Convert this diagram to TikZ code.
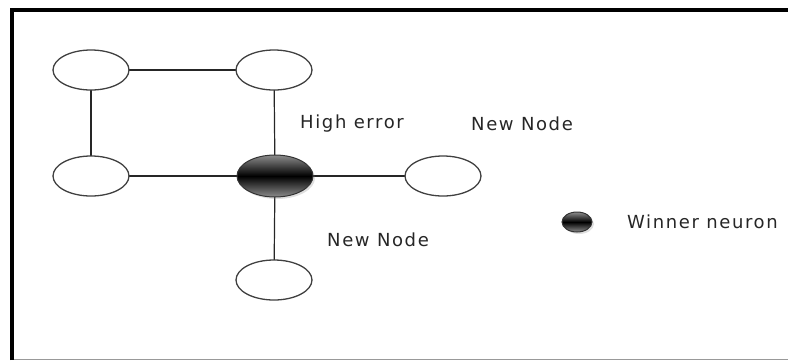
\documentclass[tikz,border=0pt]{standalone}
\usepackage{fontspec}
\setmainfont{DejaVu Sans}
\usetikzlibrary{shapes.geometric,shadows}

\begin{document}
\begin{tikzpicture}[x=1pt,y=-1pt]
        \tikzset{
          neuron/.style={ellipse,draw=black!75,line width=1.3pt,fill=white,
            minimum width=76pt,minimum height=40pt,inner sep=0pt},
          winner/.style={ellipse,draw=black!80,line width=1pt,
            top color=black!45,bottom color=black!45,middle color=black,
            drop shadow={shadow xshift=2pt,shadow yshift=-2pt,opacity=0.25}},
          link/.style={draw=black!85,line width=1.2pt},
          lbl/.style={font=\fontsize{18}{20}\selectfont\addfontfeatures{LetterSpace=9},
            text=black!85,inner sep=0pt}
        }
        \useasboundingbox (0,0) rectangle (788,360);
        % frame
        \draw [black!40,line width=1pt] (12,359) -- (788,359);
        \draw [black,line width=4pt] (11.5,360) -- (11.5,10) -- (788,10);
        % links first, nodes on top
        \coordinate (ptl) at (91,70);
        \coordinate (ptr) at (274,70);
        \coordinate (pml) at (91,176);
        \coordinate (pc) at (275,176);
        \coordinate (pmr) at (443,176);
        \coordinate (pb) at (274,280);
        \draw [link] (ptl) -- (ptr);
        \draw [link] (ptl) -- (pml);
        \draw [link] (ptr) -- (pc);
        \draw [link] (pml) -- (pc);
        \draw [link] (pc) -- (pmr);
        \draw [link] (pc) -- (pb);
        \node [neuron] (tl) at (ptl) {};
        \node [neuron] (tr) at (ptr) {};
        \node [neuron] (ml) at (pml) {};
        \node [neuron] (mr) at (pmr) {};
        \node [neuron] (bot) at (pb) {};
        \node [neuron,winner,minimum width=76pt,minimum height=42pt] (win) at (pc) {};
        % labels
        \node [lbl,anchor=west] (err) at (300,124) {High error};
        \node [lbl,anchor=west] (new1) at (471,124) {New Node};
        \node [lbl,anchor=west] (new2) at (327,240) {New Node};
        % legend
        \node [winner,minimum width=30pt,minimum height=20pt,inner sep=0pt] (key) at (577,222) {};
        \node [lbl,anchor=west] (keytxt) at (627,222) {Winner neuron};
      \end{tikzpicture}
\end{document}
